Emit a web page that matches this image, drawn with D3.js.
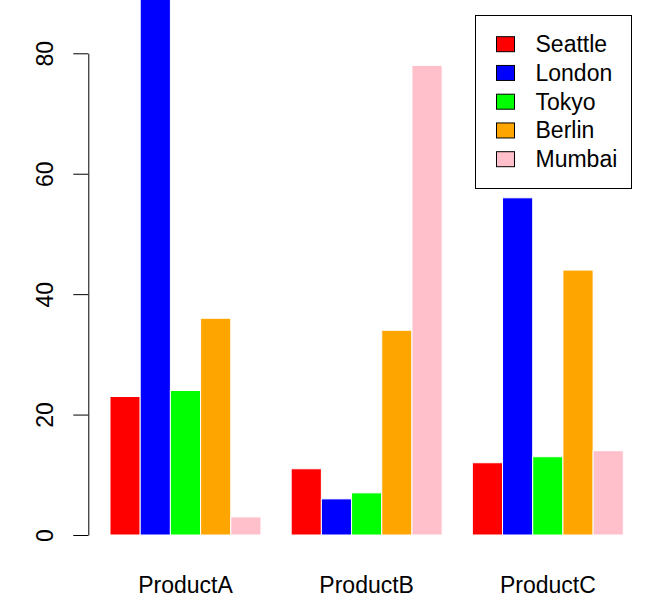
<!DOCTYPE html>
<html>
<head>
<meta charset="utf-8">
<script src="https://cdn.jsdelivr.net/npm/d3@7"></script>
<style>
  html, body { margin: 0; padding: 0; background: #fff; }
  svg { display: block; font-family: "Liberation Sans", Arial, sans-serif; }
</style>
</head>
<body>
<svg id="chart" width="670" height="609"></svg>
<script>
const categories = ["ProductA", "ProductB", "ProductC"];
const cities = ["Seattle", "London", "Tokyo", "Berlin", "Mumbai"];
const colors = ["#FF0000", "#0000FF", "#00FF00", "#FFA500", "#FFC0CB"];
const seattle = [23, 11, 12];
const london  = [89, 6, 56];
const tokyo   = [24, 7, 13];
const berlin  = [36, 34, 44];
const mumbai  = [3, 78, 14];
const yTicks = [0, 20, 40, 60, 80];

const series = [seattle, london, tokyo, berlin, mumbai];
const svg = d3.select("#chart");
const fs = 23;

// R barplot beside=TRUE coordinates: each group of 5 unit bars, 1 unit gap before each group
const x = d3.scaleLinear().domain([1, 18]).range([110, 623.3]);
const y = d3.scaleLinear().domain([0, 80]).range([535, 53.3]);

const bars = [];
categories.forEach((c, g) => {
  series.forEach((s, i) => {
    bars.push({ g, i, v: s[g], left: 1 + 6 * g + i });
  });
});

svg.append("g").selectAll("rect").data(bars).join("rect")
  .attr("x", d => x(d.left))
  .attr("width", d => x(d.left + 1) - x(d.left))
  .attr("y", d => y(d.v))
  .attr("height", d => y(0) - y(d.v))
  .attr("fill", d => colors[d.i])
  .attr("stroke", "#fff")
  .attr("stroke-width", 1);

// Y axis
const yAxis = svg.append("g")
  .attr("transform", "translate(88.3,0)")
  .call(d3.axisLeft(y).tickValues(yTicks).tickSize(15).tickSizeOuter(0).tickFormat(d3.format("d")));
yAxis.selectAll("path, line").attr("stroke", "#000").attr("stroke-width", 1);
yAxis.selectAll("text")
  .attr("x", null).attr("dy", null)
  .attr("transform", "translate(-35,0) rotate(-90)")
  .attr("text-anchor", "middle")
  .attr("fill", "#000")
  .style("font-size", fs + "px")
  .style("font-family", "'Liberation Sans', Arial, sans-serif");

// Category labels
svg.append("g").selectAll("text").data(categories).join("text")
  .attr("x", (d, g) => x(1 + 6 * g + 2.5))
  .attr("y", 593)
  .attr("text-anchor", "middle")
  .attr("fill", "#000")
  .style("font-size", fs + "px")
  .text(d => d);

// Legend
const lg = svg.append("g");
lg.append("rect")
  .attr("x", 475.5).attr("y", 15.5).attr("width", 156).attr("height", 173)
  .attr("fill", "#fff").attr("stroke", "#000").attr("stroke-width", 1);
const rowY = d3.scaleLinear().domain([0, 4]).range([44.2, 159.2]);
cities.forEach((c, i) => {
  lg.append("rect")
    .attr("x", 496.5).attr("y", rowY(i) - 7.5)
    .attr("width", 18).attr("height", 15)
    .attr("fill", colors[i]).attr("stroke", "#000").attr("stroke-width", 1);
  lg.append("text")
    .attr("x", 535.5).attr("y", rowY(i) + 8)
    .attr("fill", "#000")
    .style("font-size", fs + "px")
    .text(c);
});
</script>
</body>
</html>
